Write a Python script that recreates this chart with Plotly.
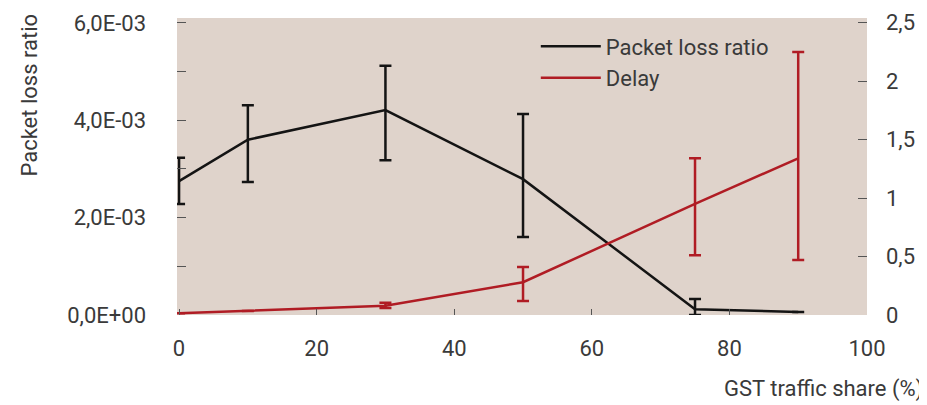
import plotly.graph_objects as go

x_share = [0, 10, 30, 50, 75, 90]
loss = [2.75e-3, 3.6e-3, 4.21e-3, 2.79e-3, 0.12e-3, 0.06e-3]
loss_hi = [3.23e-3, 4.31e-3, 5.12e-3, 4.13e-3, 0.33e-3, None]
loss_lo = [2.28e-3, 2.73e-3, 3.18e-3, 1.60e-3, 0.0, None]

delay = [0.015, 0.035, 0.08, 0.28, 0.95, 1.34]
delay_hi = [None, None, 0.105, 0.41, 1.34, 2.25]
delay_lo = [None, None, 0.06, 0.12, 0.51, 0.47]

left_vals = [0, 2e-3, 4e-3, 6e-3]
left_text = ["0,0E+00", "2,0E-03", "4,0E-03", "6,0E-03"]
right_vals = [0, 0.5, 1, 1.5, 2, 2.5]
right_text = ["0", "0,5", "1", "1,5", "2", "2,5"]
x_vals = [0, 20, 40, 60, 80, 100]

def plus(v, hi):
    return [0 if h is None else h - c for c, h in zip(v, hi)]
def minus(v, lo):
    return [0 if l is None else c - l for c, l in zip(v, lo)]

BLACK = "#141414"
RED = "#b01c24"
FONT = "Roboto, sans-serif"
TXT = "#3a3a3a"
FS = 22

fig = go.Figure()
fig.add_trace(go.Scatter(
    x=x_share, y=loss, name="Packet loss ratio", mode="lines",
    line=dict(color=BLACK, width=2.5),
    error_y=dict(type="data", symmetric=False, array=plus(loss, loss_hi),
                 arrayminus=minus(loss, loss_lo), color=BLACK, thickness=2.5, width=6),
))
fig.add_trace(go.Scatter(
    x=x_share, y=delay, name="Delay", mode="lines", yaxis="y2",
    line=dict(color=RED, width=2.5),
    error_y=dict(type="data", symmetric=False, array=plus(delay, delay_hi),
                 arrayminus=minus(delay, delay_lo), color=RED, thickness=2.5, width=6),
))

fig.update_layout(
    width=919, height=397,
    margin=dict(l=169, r=60, t=10, b=90, autoexpand=False),
    paper_bgcolor="white", plot_bgcolor="#dfd3cb",
    font=dict(family=FONT, size=FS, color=TXT),
    showlegend=True,
    legend=dict(x=0.52, y=0.975, xanchor="left", yanchor="top",
                bgcolor="rgba(0,0,0,0)", font=dict(size=FS, color=TXT),
                tracegroupgap=0, itemwidth=60),
    xaxis=dict(range=[-0.3, 100], tickvals=x_vals, ticks="inside", ticklen=6,
               tickcolor="#555", showgrid=False, zeroline=False, showline=False,
               ticklabelstandoff=18, automargin=False),
    yaxis=dict(range=[0, 6.1e-3], tickvals=left_vals, ticktext=left_text,
               ticks="inside", ticklen=9, tickcolor="#555", showgrid=False,
               zeroline=False, showline=False, ticklabelstandoff=30, automargin=False,
               minor=dict(dtick=1e-3, tick0=0, ticks="inside", ticklen=9, tickcolor="#555")),
    yaxis2=dict(range=[0, 2.54], tickvals=right_vals, ticktext=right_text,
                overlaying="y", side="right", ticks="inside", ticklen=9,
                tickcolor="#555", showgrid=False, zeroline=False, showline=False,
                ticklabelstandoff=18, automargin=False),
    annotations=[
        dict(text="Packet loss ratio", textangle=-90, xref="paper", yref="paper",
             x=-0.213, y=1.02, xanchor="center", yanchor="top", showarrow=False,
             font=dict(size=FS, color=TXT)),
        dict(text="GST traffic share (%)", xref="paper", yref="paper",
             x=1.084, y=-0.2, xanchor="right", yanchor="top", showarrow=False,
             font=dict(size=FS, color=TXT)),
    ],
)

fig.write_html("out.html")
